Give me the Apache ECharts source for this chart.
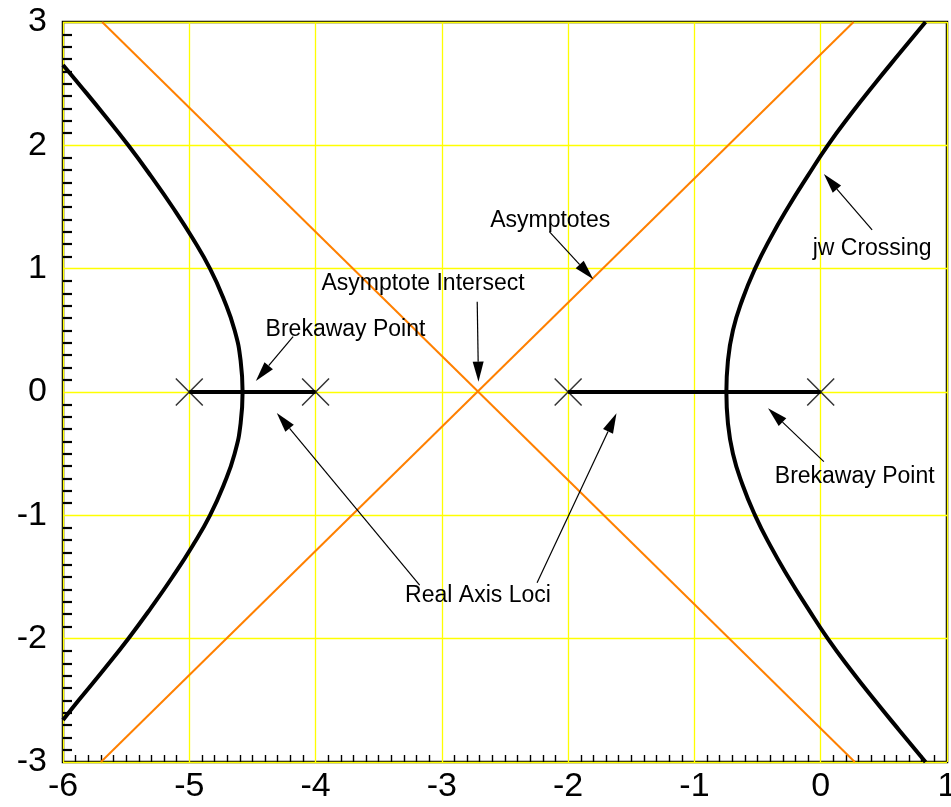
<!DOCTYPE html>
<html>
<head>
<meta charset="utf-8">
<script src="https://cdn.jsdelivr.net/npm/echarts@6/dist/echarts.min.js"></script>
<style>
  html, body { margin: 0; padding: 0; background: #fff; }
  #chart { width: 951px; height: 807px; }
</style>
</head>
<body>
<div id="chart"></div>
<script>
// Open-loop poles on the real axis
const poles = [-5, -4, -2, 0];

// Complex branch leaving the right breakaway point (bottom to top)
const rightBranch = [
  [0.83, -3.0], [0.628, -2.75], [0.428, -2.5], [0.236, -2.25], [0.056, -2.0], [-0.104, -1.75],
  [-0.257, -1.5], [-0.397, -1.25], [-0.52, -1.0], [-0.62, -0.75], [-0.695, -0.5], [-0.735, -0.25],
  [-0.747, 0],
  [-0.735, 0.25], [-0.695, 0.5], [-0.62, 0.75], [-0.52, 1.0], [-0.397, 1.25], [-0.257, 1.5],
  [-0.104, 1.75], [0.056, 2.0], [0.236, 2.25], [0.428, 2.5], [0.628, 2.75], [0.83, 3.0]
];

// Complex branch leaving the left breakaway point (bottom to top)
const leftBranch = [
  [-6.0, -2.66], [-5.876, -2.5], [-5.676, -2.25], [-5.483, -2.0], [-5.303, -1.75], [-5.133, -1.5],
  [-4.976, -1.25], [-4.836, -1.0], [-4.726, -0.75], [-4.641, -0.5], [-4.593, -0.25],
  [-4.578, 0],
  [-4.593, 0.25], [-4.641, 0.5], [-4.726, 0.75], [-4.836, 1.0], [-4.976, 1.25], [-5.133, 1.5],
  [-5.303, 1.75], [-5.483, 2.0], [-5.676, 2.25], [-5.876, 2.5], [-6.0, 2.652]
];

// Segments of the real axis that belong to the locus
const realAxisLoci = [
  [[-5, 0], [-4, 0]],
  [[-2, 0], [0, 0]]
];

// Asymptote lines crossing at the centroid
const asymptotes = [
  [[-5.69, 3], [0.27, -3]],
  [[-5.70, -3], [0.26, 3]]
];

// Annotation texts and their centres
const noteTexts = ['Brekaway Point', 'Asymptote Intersect', 'Asymptotes', 'jw Crossing', 'Brekaway Point', 'Real Axis Loci'];
const notePositions = [[-3.763, 0.503], [-3.149, 0.876], [-2.142, 1.391], [0.407, 1.160], [0.269, -0.689], [-2.714, -1.655]];

// Annotation arrows: [tailX, tailY, tipX, tipY]
const arrows = [
  [-4.178, 0.449, -4.473, 0.089],
  [-2.720, 0.732, -2.710, 0.084],
  [-2.149, 1.300, -1.801, 0.914],
  [0.407, 1.314, 0.025, 1.768],
  [0.025, -0.565, -0.417, -0.132],
  [-3.176, -1.565, -4.307, -0.170],
  [-2.246, -1.547, -1.617, -0.173]
];

const FONT = '"Liberation Sans", Arial, Helvetica, sans-serif';
const crossSymbol = 'path://M0,3.8L3.8,0L50,46.2L96.2,0L100,3.8L53.8,50L100,96.2L96.2,100L50,53.8L3.8,100L0,96.2L46.2,50Z';

const chart = echarts.init(document.getElementById('chart'), null, { renderer: 'canvas' });

const series = [];

asymptotes.forEach(seg => series.push({
  type: 'line', data: seg, showSymbol: false, silent: true, z: 2,
  lineStyle: { color: '#ff8000', width: 2 }
}));

[leftBranch, rightBranch].forEach(br => series.push({
  type: 'line', data: br, showSymbol: false, silent: true, z: 3,
  smooth: 0.5,
  lineStyle: { color: '#000', width: 4, join: 'round' }
}));

realAxisLoci.forEach(seg => series.push({
  type: 'line', data: seg, showSymbol: false, silent: true, z: 3,
  lineStyle: { color: '#000', width: 4 }
}));

series.push({
  type: 'scatter', data: poles.map(p => [p, 0]), symbol: crossSymbol, symbolSize: 28,
  itemStyle: { color: '#000' }, silent: true, z: 4
});

series.push({
  type: 'custom', data: arrows, clip: false, silent: true, z: 5,
  encode: { x: [0, 2], y: [1, 3] },
  renderItem: function (params, api) {
    const a = api.coord([api.value(0), api.value(1)]);
    const b = api.coord([api.value(2), api.value(3)]);
    const dx = b[0] - a[0], dy = b[1] - a[1];
    const len = Math.hypot(dx, dy);
    const ux = dx / len, uy = dy / len;
    const hl = 20, hw = 5.5;
    const base = [b[0] - ux * hl, b[1] - uy * hl];
    return {
      type: 'group',
      children: [
        { type: 'line', shape: { x1: a[0], y1: a[1], x2: base[0], y2: base[1] },
          style: { stroke: '#000', lineWidth: 1.2 } },
        { type: 'polygon',
          shape: { points: [b, [base[0] - uy * hw, base[1] + ux * hw], [base[0] + uy * hw, base[1] - ux * hw]] },
          style: { fill: '#000' } }
      ]
    };
  }
});

series.push({
  type: 'custom', data: notePositions, clip: false, silent: true, z: 6,
  renderItem: function (params, api) {
    const p = api.coord([api.value(0), api.value(1)]);
    return {
      type: 'text', x: p[0], y: p[1],
      style: {
        text: noteTexts[params.dataIndex], fill: '#000',
        fontSize: 23, fontFamily: FONT, align: 'center', verticalAlign: 'middle'
      }
    };
  }
});

chart.setOption({
  animation: false,
  backgroundColor: '#fff',
  grid: {
    left: 63, right: 4, top: 22, bottom: 45,
    show: true, borderColor: '#000', borderWidth: 2.5, backgroundColor: 'transparent',
    containLabel: false, outerBoundsMode: 'none'
  },
  xAxis: {
    type: 'value', min: -6, max: 1, interval: 1,
    axisLine: { show: false, onZero: false },
    axisTick: { show: false, inside: true },
    minorTick: { show: true, splitNumber: 10, length: 7, lineStyle: { color: '#000', width: 1.4 } },
    splitLine: { show: true, lineStyle: { color: '#ffff00', width: 1.3 } },
    axisLabel: { color: '#000', fontSize: 34, fontFamily: FONT, margin: 8, showMinLabel: true, showMaxLabel: true }
  },
  yAxis: {
    type: 'value', min: -3, max: 3, interval: 1,
    axisLine: { show: false, onZero: false },
    axisTick: { show: false, inside: true },
    minorTick: { show: true, splitNumber: 10, length: 9, lineStyle: { color: '#000', width: 2.2 } },
    splitLine: { show: true, lineStyle: { color: '#ffff00', width: 1.3 } },
    axisLabel: { color: '#000', fontSize: 34, fontFamily: FONT, margin: 16, showMinLabel: true, showMaxLabel: true }
  },
  series: series
});
</script>
</body>
</html>
